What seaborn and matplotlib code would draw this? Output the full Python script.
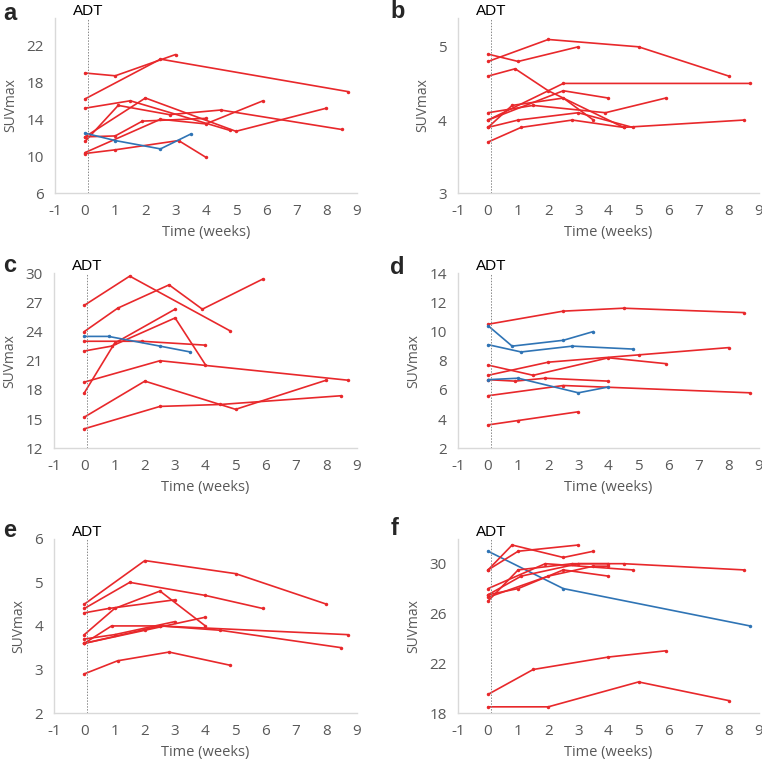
import pandas as pd
import seaborn as sns
import matplotlib.pyplot as plt

RED = "#e8282b"
BLUE = "#2f74b5"

# panel a
A_WEEKS = [[0, 1, 3], [0, 2.5, 8.7], [0, 1.5, 4.8], [0, 1.1, 2.8, 4.5, 8.5],
           [0, 2.0, 5.0, 8.0], [0, 1, 1.9, 4], [0, 2.5, 4, 5.9], [0, 1, 3.1, 4],
           [0, 1, 2.5, 3.5]]
A_SUV = [[19.0, 18.7, 21.0], [16.2, 20.5, 17.0], [15.2, 16.0, 12.8],
         [11.6, 15.5, 14.5, 15.0, 12.9], [12.1, 16.3, 12.7, 15.2],
         [12.1, 12.2, 13.8, 14.1], [10.4, 14.0, 13.5, 16.0],
         [10.3, 10.7, 11.7, 9.9], [12.5, 11.7, 10.8, 12.4]]
A_COLOR = ["r", "r", "r", "r", "r", "r", "r", "r", "b"]

# panel b
B_WEEKS = [[0, 2, 5, 8], [0, 1, 3], [0, 0.9, 2, 4.5, 8.5], [0, 2.5, 8.7],
           [0, 2.5, 4], [0, 1.5, 3.9, 5.9], [0, 0.8, 2.5, 3.5], [0, 1, 3, 4.8],
           [0, 1.1, 2.8, 4.5]]
B_SUV = [[4.8, 5.1, 5.0, 4.6], [4.9, 4.8, 5.0], [4.6, 4.7, 4.4, 3.9, 4.0],
         [4.0, 4.5, 4.5], [4.0, 4.4, 4.3], [4.1, 4.2, 4.1, 4.3],
         [3.9, 4.2, 4.3, 4.0], [3.9, 4.0, 4.1, 3.9], [3.7, 3.9, 4.0, 3.9]]
B_COLOR = ["r"] * 9

# panel c
C_WEEKS = [[0, 1.5, 4.8], [0, 1.1, 2.8, 3.9, 5.9], [0, 1, 3], [0, 0.9, 3, 4],
           [0, 1.9, 4], [0, 2.5, 8.7], [0, 2, 5, 8], [0, 2.5, 4.5, 8.5],
           [0, 0.8, 2.5, 3.5]]
C_SUV = [[26.7, 29.7, 24.1], [24.0, 26.4, 28.8, 26.3, 29.4], [17.7, 22.8, 26.3],
         [22.0, 22.5, 25.4, 20.6], [23.0, 23.0, 22.6], [18.8, 21.0, 19.0],
         [15.2, 18.9, 16.0, 19.0], [14.0, 16.3, 16.5, 17.4],
         [23.5, 23.5, 22.5, 21.9]]
C_COLOR = ["r", "r", "r", "r", "r", "r", "r", "r", "b"]

# panel d
D_WEEKS = [[0, 2.5, 4.5, 8.5], [0, 0.8, 2.5, 3.5], [0, 1.1, 2.8, 4.8],
           [0, 2, 5, 8], [0, 1.5, 4, 5.9], [0, 0.9, 1.9, 4], [0, 1, 3, 4],
           [0, 2.5, 8.7], [0, 1, 3]]
D_SUV = [[10.5, 11.4, 11.6, 11.3], [10.4, 9.0, 9.4, 10.0], [9.1, 8.6, 9.0, 8.8],
         [7.0, 7.9, 8.4, 8.9], [7.7, 7.0, 8.2, 7.8], [6.7, 6.6, 6.8, 6.6],
         [6.7, 6.8, 5.8, 6.2], [5.6, 6.3, 5.8], [3.6, 3.9, 4.5]]
D_COLOR = ["r", "b", "b", "r", "r", "r", "b", "r", "r"]

# panel e
E_WEEKS = [[0, 2, 5, 8], [0, 1.5, 4, 5.9], [0, 0.8, 3], [0, 1, 2.5, 4],
           [0, 0.9, 2.5, 4.5, 8.5], [0, 1, 3], [0, 2, 4], [0, 2.5, 8.7],
           [0, 1.1, 2.8, 4.8]]
E_SUV = [[4.5, 5.5, 5.2, 4.5], [4.4, 5.0, 4.7, 4.4], [4.3, 4.4, 4.6],
         [3.8, 4.4, 4.8, 4.0], [3.6, 4.0, 4.0, 3.9, 3.5], [3.7, 3.8, 4.1],
         [3.6, 3.9, 4.2], [3.6, 4.0, 3.8], [2.9, 3.2, 3.4, 3.1]]
E_COLOR = ["r"] * 9

# panel f
F_WEEKS = [[0, 2.5, 8.7], [0, 0.8, 2.5, 3.5], [0, 1, 3], [0, 1, 2.8, 4],
           [0, 1.9, 4.8], [0, 1.1, 3, 4.5, 8.5], [0, 1, 2.5, 4],
           [0, 2, 3.5, 4], [0, 1.5, 4, 5.9], [0, 2, 5, 8]]
F_SUV = [[31.0, 28.0, 25.0], [29.5, 31.5, 30.5, 31.0], [29.5, 31.0, 31.5],
         [27.0, 29.5, 30.0, 30.0], [28.0, 30.0, 29.5],
         [27.5, 29.0, 30.0, 30.0, 29.5], [27.5, 28.0, 29.5, 29.0],
         [27.3, 29.0, 29.8, 29.8], [19.5, 21.5, 22.5, 23.0],
         [18.5, 18.5, 20.5, 19.0]]
F_COLOR = ["b", "r", "r", "r", "r", "r", "r", "r", "r", "r"]

PANELS = [
    ("a", A_WEEKS, A_SUV, A_COLOR, (6, 25), [6, 10, 14, 18, 22]),
    ("b", B_WEEKS, B_SUV, B_COLOR, (3, 5.4), [3, 4, 5]),
    ("c", C_WEEKS, C_SUV, C_COLOR, (12, 30), [12, 15, 18, 21, 24, 27, 30]),
    ("d", D_WEEKS, D_SUV, D_COLOR, (2, 14), [2, 4, 6, 8, 10, 12, 14]),
    ("e", E_WEEKS, E_SUV, E_COLOR, (2, 6), [2, 3, 4, 5, 6]),
    ("f", F_WEEKS, F_SUV, F_COLOR, (18, 32), [18, 22, 26, 30]),
]

# axes rectangles and panel-letter anchors (figure fraction)
POS = {
    "a": [0.072, 0.746, 0.396, 0.231],
    "b": [0.601, 0.746, 0.395, 0.231],
    "c": [0.071, 0.411, 0.397, 0.230],
    "d": [0.601, 0.411, 0.395, 0.230],
    "e": [0.071, 0.063, 0.397, 0.229],
    "f": [0.601, 0.063, 0.395, 0.229],
}
LETTER_XY = {
    "a": (0.004, 0.998), "b": (0.512, 1.0),
    "c": (0.004, 0.666), "d": (0.512, 0.664),
    "e": (0.004, 0.318), "f": (0.512, 0.321),
}

sns.set_style("white")
plt.rcParams["font.family"] = ["Open Sans", "DejaVu Sans"]
plt.rcParams["axes.unicode_minus"] = False

fig = plt.figure(figsize=(7.62, 7.61), dpi=100)

for letter, weeks, suv, colors, ylim, yticks in PANELS:
    rows = []
    for i, (w, s, c) in enumerate(zip(weeks, suv, colors)):
        for x, y in zip(w, s):
            rows.append({"id": i, "week": x, "suv": y, "grp": c})
    df = pd.DataFrame(rows)

    ax = fig.add_axes(POS[letter])
    sns.lineplot(data=df, x="week", y="suv", units="id", estimator=None,
                 hue="grp", palette={"r": RED, "b": BLUE}, sort=False,
                 marker="o", markersize=2.5, markeredgewidth=0, lw=1.2,
                 legend=False, ax=ax)

    ax.axvline(0.1, color="#888888", lw=0.7, ls=(0, (1.5, 1.5)))
    ax.set_xlim(-1, 9)
    ax.set_ylim(*ylim)
    ax.set_xticks(range(-1, 10))
    ax.set_yticks(yticks)
    ax.tick_params(length=0, labelsize=11, labelcolor="#595959", pad=8)
    for sp in ["top", "right"]:
        ax.spines[sp].set_visible(False)
    for sp in ["left", "bottom"]:
        ax.spines[sp].set_color("#d9d9d9")
        ax.spines[sp].set_linewidth(1.0)
    ax.set_xlabel("Time (weeks)", fontsize=10.5, color="#595959", labelpad=4)
    ax.set_ylabel("SUVmax", fontsize=10, color="#595959", labelpad=6)

    ax.text(0.1, 1.0, "ADT", transform=ax.get_xaxis_transform(),
            ha="center", va="bottom", fontsize=11, color="black",
            family=["Liberation Sans", "DejaVu Sans"])

    lx, ly = LETTER_XY[letter]
    fig.text(lx, ly, letter, fontsize=17, fontweight="bold",
             family=["Liberation Sans", "DejaVu Sans"], va="top", ha="left")

fig.savefig("out.png", dpi=100)
